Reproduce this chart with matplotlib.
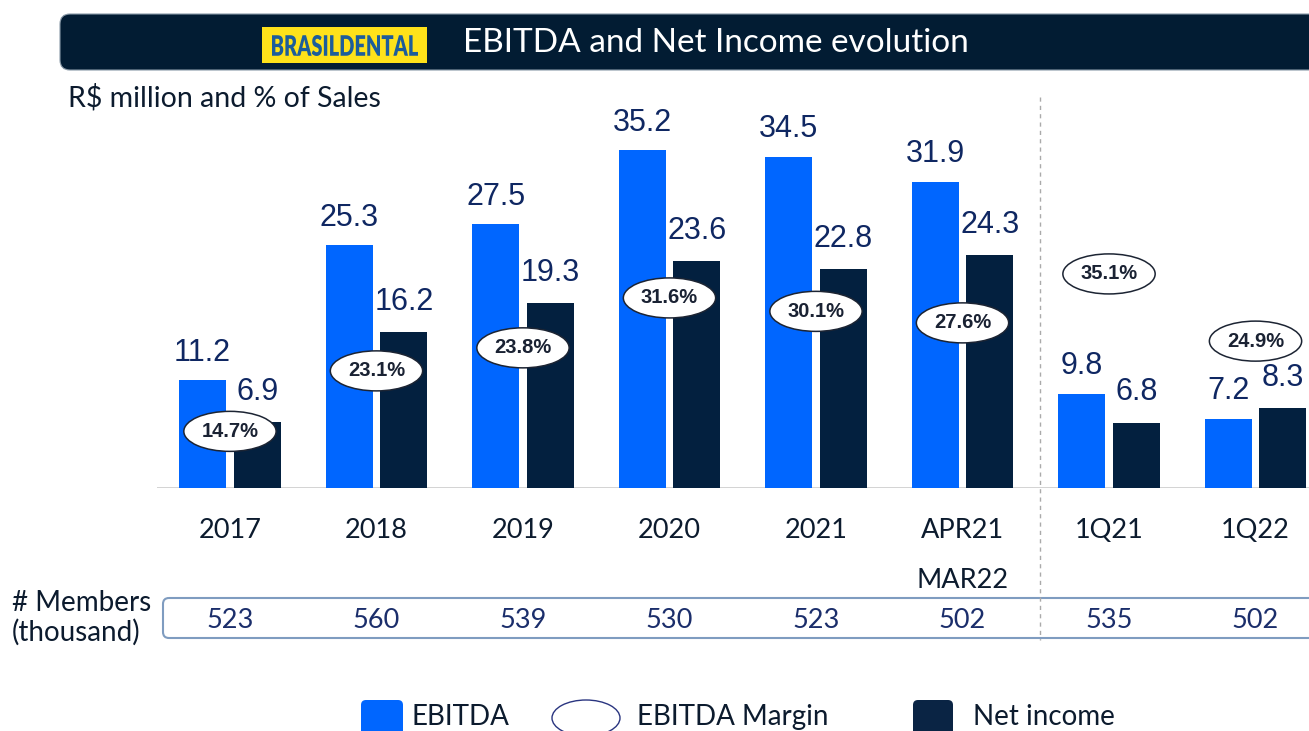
import matplotlib
matplotlib.use('Agg')
import matplotlib.pyplot as plt
from matplotlib.patches import Ellipse, FancyBboxPatch, Rectangle, PathPatch
from matplotlib.transforms import blended_transform_factory, Affine2D
from matplotlib.textpath import TextPath
from matplotlib.font_manager import FontProperties

categories = ['2017', '2018', '2019', '2020', '2021', 'APR21\nMAR22', '1Q21', '1Q22']
ebitda = [11.2, 25.3, 27.5, 35.2, 34.5, 31.9, 9.8, 7.2]
net_income = [6.9, 16.2, 19.3, 23.6, 22.8, 24.3, 6.8, 8.3]
margin = ['14.7%', '23.1%', '23.8%', '31.6%', '30.1%', '27.6%', '35.1%', '24.9%']
members = [523, 560, 539, 530, 523, 502, 535, 502]

# height (in bar units) where each margin bubble sits
margin_y = [5.9, 12.2, 14.6, 19.8, 18.4, 17.2, 22.3, 15.3]

BLUE = '#0066ff'
NAVY = '#03203f'
LABEL = '#0f2762'
TEXT = '#0c1b2e'
SANS = ['Lato', 'DejaVu Sans']
ARIAL = ['Liberation Sans', 'DejaVu Sans']

fig = plt.figure(figsize=(13.09, 7.31), dpi=100)

# background axes in pixel units, y pointing down
bg = fig.add_axes([0, 0, 1, 1])
bg.set_xlim(0, 1309)
bg.set_ylim(731, 0)
bg.axis('off')

# bar axes
ax = fig.add_axes([157 / 1309, (731 - 488) / 731, (1309 - 157) / 1309, (488 - 97) / 731])
ax.set_xlim(-0.498, 7.365)
ax.set_ylim(0, 40.73)
ax.axis('off')
ax.axhline(0, color='#cccccc', lw=1.2, zorder=1)

x = list(range(len(categories)))
w = 0.32
off = 0.187
xe = [i - off for i in x]
xn = [i + off for i in x]
ax.bar(xe, ebitda, width=w, color=BLUE, zorder=2)
ax.bar(xn, net_income, width=w, color=NAVY, zorder=2)

for xi, v in zip(xe, ebitda):
    ax.annotate('%.1f' % v, (xi, v), xytext=(0, 14), textcoords='offset points',
                ha='center', va='baseline', fontsize=22, color=LABEL, family=ARIAL)
for xi, v in zip(xn, net_income):
    ax.annotate('%.1f' % v, (xi, v), xytext=(0, 16), textcoords='offset points',
                ha='center', va='baseline', fontsize=22, color=LABEL, family=ARIAL)

for xi, yi, m in zip(x, margin_y, margin):
    ax.add_patch(Ellipse((xi, yi), 0.63, 4.17, facecolor='white', edgecolor='#1c2433',
                         lw=1.1, zorder=4))
    ax.text(xi, yi, m, ha='center', va='center', fontsize=14.5, fontweight='bold',
            color='#1a2233', family=ARIAL, zorder=5)

# category labels and member counts (x from bars, y in pixels)
tr = blended_transform_factory(ax.transData, bg.transData)
for xi, c in zip(x, categories):
    for k, line in enumerate(c.split('\n')):
        bg.text(xi, 530 + 50 * k, line, transform=tr, ha='center', va='center',
                fontsize=19.5, color=TEXT, family=SANS)
for xi, m in zip(x, members):
    bg.text(xi, 621, str(m), transform=tr, ha='center', va='center',
            fontsize=19.5, color='#1b2e6b', family=SANS)

# members box
bg.add_patch(FancyBboxPatch((163, 598), 1200, 40, boxstyle='round,pad=0,rounding_size=6',
                            facecolor='none', edgecolor='#7f9cc0', lw=1.5))
bg.text(12, 603, '# Members', ha='left', va='center', fontsize=20, color=TEXT, family=SANS)
bg.text(12, 632, '(thousand)', ha='left', va='center', fontsize=20, color=TEXT, family=SANS)

# dashed separator
bg.plot([1040, 1040], [97, 640], color='#aaaaaa', lw=1, ls=(0, (3, 3)))

# title bar
bg.add_patch(FancyBboxPatch((60, 14), 1300, 56, boxstyle='round,pad=0,rounding_size=10',
                            facecolor='#021c33', edgecolor='#8a9aa8', lw=0.8))
bg.add_patch(Rectangle((262, 27), 165, 36, facecolor='#ffe21a', edgecolor='none'))
# logo text squeezed into a condensed shape
tp = TextPath((0, 0), 'BRASILDENTAL', size=1,
              prop=FontProperties(family='Lato', weight='heavy'))
bb = tp.get_extents()
logo_tr = Affine2D().translate(-bb.x0, -bb.y0).scale(146 / bb.width, -21 / bb.height).translate(272, 56)
bg.add_patch(PathPatch(logo_tr.transform_path(tp), facecolor='#1d5d9b', edgecolor='none'))
bg.text(463, 43, 'EBITDA and Net Income evolution', ha='left', va='center', fontsize=24,
        color='white', family=SANS)
bg.text(68, 98, 'R$ million and % of Sales', ha='left', va='center', fontsize=20.5,
        color=TEXT, family=SANS)

# legend
bg.add_patch(FancyBboxPatch((361, 700), 42, 40, boxstyle='round,pad=0,rounding_size=5',
                            facecolor=BLUE, edgecolor='none'))
bg.text(412, 717, 'EBITDA', ha='left', va='center', fontsize=20, color=TEXT, family=SANS)
bg.add_patch(Ellipse((586, 718), 68, 36, facecolor='white', edgecolor='#2a3580', lw=1))
bg.text(637, 717, 'EBITDA Margin', ha='left', va='center', fontsize=20, color=TEXT, family=SANS)
bg.add_patch(FancyBboxPatch((913, 700), 40, 40, boxstyle='round,pad=0,rounding_size=5',
                            facecolor='#0a2444', edgecolor='none'))
bg.text(973, 717, 'Net income', ha='left', va='center', fontsize=20, color=TEXT, family=SANS)

fig.savefig('out.png', dpi=100)
